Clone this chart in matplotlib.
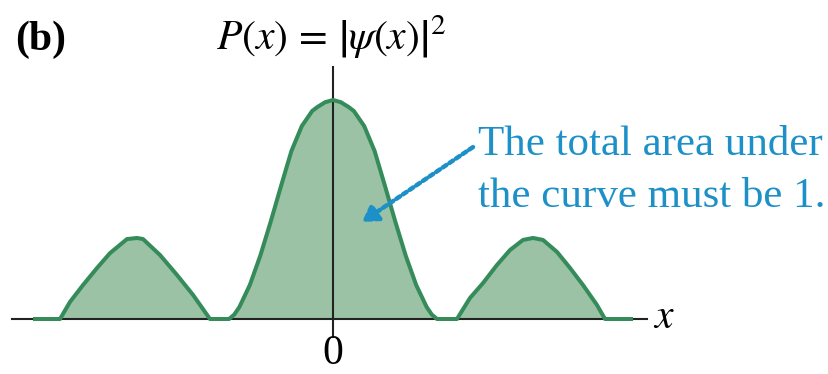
import numpy as np
import matplotlib.pyplot as plt

plt.rcParams['mathtext.fontset'] = 'stix'
plt.rcParams['font.family'] = ['Liberation Serif', 'DejaVu Serif']

# P(x): x in units of the central lobe half-width, P normalised to the central peak
x_left = [-2.885, -2.625, -2.529, -2.404, -2.269, -2.144, -1.981, -1.885, -1.827, -1.663, -1.500, -1.346, -1.183]
p_left = [0.0, 0.0, 0.078, 0.155, 0.233, 0.301, 0.365, 0.370, 0.365, 0.292, 0.201, 0.110, 0.0]

x_mid = [-1.0, -0.95, -0.9, -0.8, -0.7, -0.6, -0.5, -0.4, -0.3, -0.2, -0.15, -0.075, 0.0,
         0.075, 0.15, 0.2, 0.3, 0.4, 0.5, 0.6, 0.7, 0.8, 0.9, 0.95, 1.0]
p_mid = [0.0, 0.020, 0.055, 0.155, 0.288, 0.443, 0.607, 0.767, 0.881, 0.950, 0.968, 0.990, 1.0,
         0.990, 0.968, 0.950, 0.881, 0.767, 0.607, 0.443, 0.288, 0.155, 0.055, 0.020, 0.0]

x_right = [1.192, 1.317, 1.442, 1.577, 1.702, 1.827, 1.923, 2.019, 2.154, 2.279, 2.404, 2.538, 2.615, 2.885]
p_right = [0.0, 0.096, 0.164, 0.247, 0.315, 0.361, 0.370, 0.361, 0.306, 0.233, 0.155, 0.064, 0.0, 0.0]

x_all = np.array(x_left + x_mid + x_right)
p_all = np.array(p_left + p_mid + p_right)

line_green = '#358c5a'
fill_green = '#9bc2a5'
note_blue = '#1e90c8'

fig = plt.figure(figsize=(8.29, 3.74), dpi=100)
ax = fig.add_axes([0, 0, 1, 1])
ax.set_xlim(-3.202, 4.769)
ax.set_ylim(-0.2511, 1.4566)
ax.axis('off')

# shaded area, then axes, then the curve on top
ax.fill_between(x_all, p_all, 0, color=fill_green, lw=0, zorder=1)
ax.plot([-3.087, 3.019], [0, 0], color='#222222', lw=1.5, zorder=2)
ax.plot([0, 0], [-0.082, 1.151], color='#222222', lw=1.5, zorder=2)
ax.plot(x_all, p_all, color=line_green, lw=2.9, solid_joinstyle='round',
        solid_capstyle='butt', zorder=3)

# labels
ax.text(-3.058, 1.228, '(b)', fontsize=30, fontweight='bold', ha='left', va='baseline')
ax.text(-0.019, 1.228, r'$P(x)\,=\,\left|\psi(x)\right|^2$', fontsize=30,
        ha='center', va='baseline')
ax.text(0, -0.205, '0', fontsize=30, ha='center', va='baseline')
ax.text(3.077, -0.041, r'$x$', fontsize=30, ha='left', va='baseline')

ax.text(1.394, 0.749, 'The total area under', fontsize=31, color=note_blue,
        ha='left', va='baseline')
ax.text(1.394, 0.511, 'the curve must be 1.', fontsize=31, color=note_blue,
        ha='left', va='baseline')
ax.annotate('', xy=(0.279, 0.443), xytext=(1.346, 0.785),
            arrowprops=dict(arrowstyle='-|>,head_length=0.9,head_width=0.55',
                            color=note_blue, lw=3.2, ls=(0, (1, 0.8)),
                            shrinkA=0, shrinkB=0), zorder=4)

fig.savefig('out.png', dpi=100)
